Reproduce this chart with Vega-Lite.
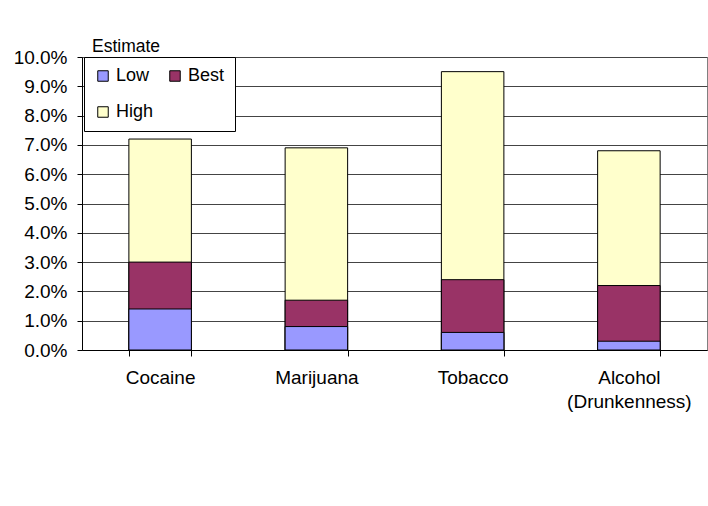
{
  "$schema": "https://vega.github.io/schema/vega-lite/v6.json",
  "autosize": "none",
  "width": 625,
  "height": 293,
  "padding": {"left": 82, "top": 57, "right": 1, "bottom": 156},
  "background": "white",
  "title": {
    "text": "Estimate",
    "anchor": "start",
    "frame": "group",
    "orient": "top",
    "dx": 10,
    "dy": 26,
    "offset": 5,
    "baseline": "alphabetic",
    "font": "Liberation Sans",
    "fontSize": 17.5,
    "fontWeight": "normal",
    "color": "black"
  },
  "data": {
    "values": [
      {"substance": "Cocaine", "estimate": "High", "value": 0.072},
      {"substance": "Marijuana", "estimate": "High", "value": 0.069},
      {"substance": "Tobacco", "estimate": "High", "value": 0.095},
      {"substance": "Alcohol (Drunkenness)", "estimate": "High", "value": 0.068},
      {"substance": "Cocaine", "estimate": "Best", "value": 0.030},
      {"substance": "Marijuana", "estimate": "Best", "value": 0.017},
      {"substance": "Tobacco", "estimate": "Best", "value": 0.024},
      {"substance": "Alcohol (Drunkenness)", "estimate": "Best", "value": 0.022},
      {"substance": "Cocaine", "estimate": "Low", "value": 0.014},
      {"substance": "Marijuana", "estimate": "Low", "value": 0.008},
      {"substance": "Tobacco", "estimate": "Low", "value": 0.006},
      {"substance": "Alcohol (Drunkenness)", "estimate": "Low", "value": 0.003}
    ]
  },
  "mark": {"type": "bar", "stroke": "black", "strokeWidth": 1, "opacity": 1},
  "encoding": {
    "x": {
      "field": "substance",
      "type": "nominal",
      "sort": null,
      "title": null,
      "scale": {"paddingInner": 0.6, "paddingOuter": 0.3},
      "axis": {
        "tickBand": "extent",
        "labelAngle": 0,
        "labelExpr": "split(datum.label, ' ')",
        "labelLineHeight": 24,
        "labelFontSize": 19,
        "labelPadding": 12,
        "tickSize": 6,
        "tickColor": "black",
        "domainColor": "black",
        "grid": false
      }
    },
    "y": {
      "field": "value",
      "type": "quantitative",
      "stack": null,
      "title": null,
      "scale": {"domain": [0, 0.1], "nice": false},
      "axis": {
        "values": [0, 0.01, 0.02, 0.03, 0.04, 0.05, 0.06, 0.07, 0.08, 0.09, 0.1],
        "format": ".1%",
        "labelFontSize": 19,
        "labelPadding": 10,
        "tickSize": 5,
        "tickColor": "black",
        "domainColor": "black",
        "grid": true,
        "gridColor": "#444444",
        "gridOpacity": 1
      }
    },
    "color": {
      "field": "estimate",
      "type": "nominal",
      "scale": {
        "domain": ["Low", "Best", "High"],
        "range": ["#9999FF", "#993366", "#FFFFCC"]
      },
      "legend": {
        "title": null,
        "orient": "none",
        "legendX": 2,
        "legendY": 0,
        "direction": "horizontal",
        "columns": 2,
        "fillColor": "white",
        "strokeColor": "black",
        "padding": 10,
        "symbolType": "square",
        "symbolSize": 110,
        "symbolStrokeColor": "black",
        "symbolStrokeWidth": 1,
        "symbolOpacity": 1,
        "labelFontSize": 18,
        "labelOffset": 4,
        "columnPadding": 12,
        "rowPadding": 18
      }
    },
    "order": {"field": "value", "sort": "descending"}
  },
  "config": {
    "font": "Liberation Sans",
    "view": {"stroke": "#808080", "fill": "white"},
    "axis": {"labelColor": "black", "labelFont": "Liberation Sans"},
    "legend": {"labelColor": "black", "labelFont": "Liberation Sans"}
  }
}
